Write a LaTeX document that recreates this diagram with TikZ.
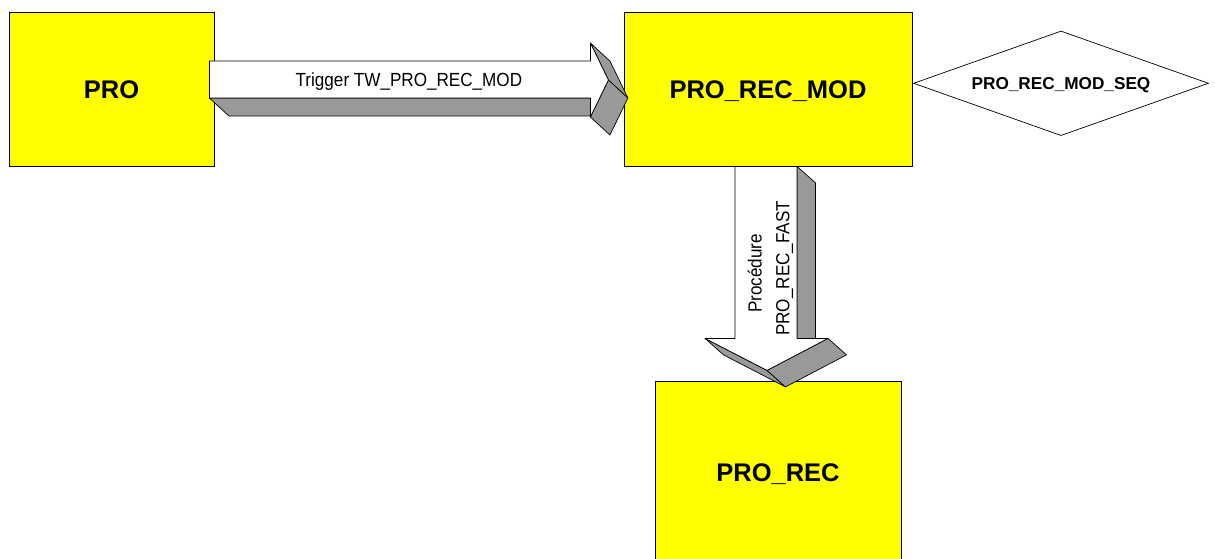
\documentclass[tikz,border=0pt]{standalone}
\usepackage{fontspec}
\setmainfont{Liberation Sans}
\newfontfamily\lblfont[FakeStretch=0.9]{Liberation Sans}
\usetikzlibrary{shapes.geometric}
\definecolor{boxyellow}{RGB}{255,255,0}
\definecolor{sidegray}{RGB}{153,153,153}
\tikzset{
  box/.style={draw=black, fill=boxyellow, line width=0.8pt, inner sep=0pt,
    text height=18.3pt, text depth=0pt,
    font=\fontsize{25.5}{30}\selectfont\bfseries},
  seqshape/.style={shape=diamond, draw=black, fill=white, line width=0.7pt,
    inner sep=0pt, shape aspect=2.82, text height=12.3pt, text depth=0pt,
    font=\fontsize{17.2}{20}\selectfont\bfseries},
  side/.style={draw=black, fill=sidegray, line width=0.7pt, line join=round},
  front/.style={draw=black, fill=white, line width=0.7pt, line join=round},
  lbl/.style={font=\lblfont\fontsize{19}{22}\selectfont, inner sep=0pt},
}
\begin{document}
\begin{tikzpicture}[x=1pt,y=-1pt]
\useasboundingbox (0,0) rectangle (1215,559);

% tables / blocks
\node[box, minimum width=205pt, minimum height=154pt] (pro) at (111.5,89) {PRO};
\node[box, minimum width=288pt, minimum height=154pt] (mod) at (768,89) {PRO\_REC\_MOD};
\node[box, minimum width=246pt, minimum height=181.6pt] (rec) at (778,472.5) {PRO\_REC};
\node[seqshape, minimum width=295pt, minimum height=104.6pt] (seq) at (1061,83.3) {PRO\_REC\_MOD\_SEQ};

% 3D arrow: PRO -> PRO_REC_MOD (trigger)
\begin{scope}[shift={(pro.east)}]
  \draw[side] (-5,9) -- (376,9) -- (395.5,27) -- (14.5,27) -- cycle;
  \draw[side] (376,-46) -- (395.5,-28) -- (413.5,9) -- (394,-9) -- cycle;
  \draw[side] (394,-9) -- (413.5,9) -- (395.5,46) -- (376,28) -- cycle;
  \draw[front] (-5,-28) -- (376,-28) -- (376,-46) -- (394,-9) -- (376,28)
    -- (376,9) -- (-5,9) -- cycle;
  \node[lbl, anchor=base] (trig) at (194.5,-2.3) {Trigger TW\_PRO\_REC\_MOD};
\end{scope}

% 3D arrow: PRO_REC_MOD -> PRO_REC (procedure)
\begin{scope}[shift={(mod.south)}]
  \draw[side] (29,0) -- (47.5,16.5) -- (47.5,188.5) -- (29,172) -- cycle;
  \draw[side] (-63,172) -- (-1,204) -- (17.5,220.5) -- (-44.5,188.5) -- cycle;
  \draw[side] (-1,204) -- (60,172) -- (78.5,188.5) -- (17.5,220.5) -- cycle;
  \draw[front] (-33,0) -- (29,0) -- (29,172) -- (60,172) -- (-1,204)
    -- (-63,172) -- (-33,172) -- cycle;
  \node[lbl, rotate=90, anchor=base] (proc1) at (-6.3,107) {Procédure};
  \node[lbl, rotate=90, anchor=base] (proc2) at (21.3,102) {PRO\_REC\_FAST};
\end{scope}
\end{tikzpicture}
\end{document}
